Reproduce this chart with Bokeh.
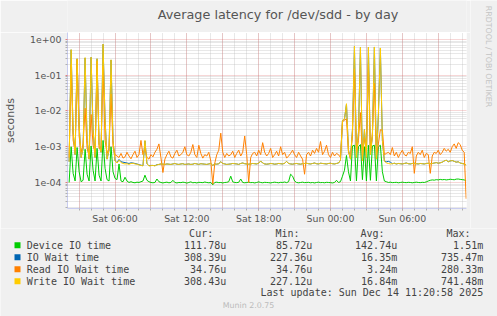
import math
from bokeh.plotting import figure
from bokeh.layouts import column, row
from bokeh.models import (Range1d, FixedTicker, Grid, Label, BoxAnnotation,
                          CustomJSTickFormatter)
from bokeh.embed import file_html
from bokeh.resources import INLINE

# ---------------- data (microseconds, 10-minute samples) ----------------
start_hour = 2 + 10 / 60      # Sat 02:10 (hours since Sat 00:00)
step_hours = 10 / 60

device_io_us = [
    100, 1000, 180, 110, 950, 200, 105, 115, 850, 170, 110, 1050, 220, 110, 900, 160, 110, 1500, 250, 120,
    110, 1000, 200, 130, 120, 330, 110, 105, 140, 110, 100, 105, 100, 98, 102, 100, 105, 110, 160, 115,
    105, 100, 98, 100, 125, 105, 100, 97, 100, 102, 98, 100, 115, 100, 97, 100, 99, 102, 100, 96,
    100, 104, 98, 100, 97, 101, 100, 99, 103, 100, 98, 100, 86, 100, 102, 99, 100, 97, 100, 101,
    105, 150, 104, 100, 99, 101, 125, 100, 98, 100, 102, 99, 100, 97, 100, 104, 100, 98, 101, 100,
    99, 97, 100, 102, 100, 98, 101, 100, 103, 99, 105, 170, 150, 110, 100, 98, 100, 102, 99, 100,
    101, 98, 100, 97, 100, 102, 99, 100, 98, 101, 100, 99, 97, 100, 115, 100, 105, 150, 220, 570,
    200, 110, 1050, 1100, 110, 1000, 1150, 120, 1000, 110, 1100, 115, 1050, 1100, 110, 1000, 1100, 200, 110, 105,
    100, 102, 99, 100, 101, 98, 100, 102, 100, 99, 101, 100, 98, 100, 102, 100, 99, 101, 100, 104,
    110, 115, 118, 116, 120, 118, 122, 119, 121, 118, 120, 123, 121, 119, 124, 125, 122, 120, 118, 112,
]

io_wait_us = [
    380, 515000, 2500, 600, 288000, 4000, 500, 900, 305000, 1500, 450, 318000, 3000, 500, 288000, 1200, 700, 735000, 6000, 450,
    800, 268000, 1500, 400, 360, 440, 380, 370, 360, 350, 340, 355, 350, 340, 330, 315, 305, 295, 1450, 335,
    295, 300, 300, 295, 315, 320, 330, 325, 320, 330, 325, 320, 330, 340, 325, 320, 330, 335, 320, 325,
    330, 320, 325, 340, 330, 320, 335, 330, 325, 320, 330, 340, 300, 330, 325, 335, 380, 340, 330, 320,
    325, 330, 340, 335, 330, 320, 340, 350, 335, 330, 325, 330, 340, 335, 330, 345, 400, 350, 330, 325,
    330, 340, 335, 325, 330, 340, 335, 330, 345, 390, 340, 330, 325, 335, 340, 330, 325, 335, 340, 345,
    335, 330, 340, 350, 335, 330, 345, 340, 335, 330, 340, 345, 335, 330, 340, 350, 420, 5400, 5900, 15500,
    800, 450, 3000, 640000, 500, 2500, 595000, 400, 3000, 500, 605000, 600, 2000, 615000, 450, 8000, 575000, 1500, 400, 380,
    390, 370, 335, 345, 330, 340, 335, 330, 340, 350, 335, 330, 340, 345, 335, 330, 340, 335, 330, 340,
    345, 335, 340, 350, 360, 345, 355, 370, 400, 420, 380, 400, 410, 390, 370, 380, 350, 340, 330, 308,
]

read_wait_us = [
    500, 200000, 1500, 800, 280000, 2000, 700, 1200, 12000, 900, 600, 8000, 1100, 700, 250000, 900, 800, 180000, 1500, 650,
    900, 30000, 1000, 600, 550, 500, 650, 480, 520, 700, 550, 460, 600, 750, 500, 600, 1500, 600, 900, 500,
    450, 600, 520, 700, 850, 1200, 500, 190, 450, 600, 750, 520, 480, 650, 800, 550, 600, 700, 1000, 600,
    550, 700, 1150, 600, 500, 1100, 650, 480, 600, 550, 700, 400, 90, 350, 600, 800, 2400, 700, 500, 650,
    550, 600, 750, 500, 650, 800, 550, 700, 2000, 600, 100, 500, 650, 700, 550, 800, 600, 1300, 700, 550,
    650, 900, 500, 600, 750, 550, 1000, 600, 700, 480, 550, 650, 800, 600, 500, 700, 550, 450, 170, 600,
    700, 550, 800, 650, 900, 700, 1400, 600, 750, 1100, 600, 500, 700, 550, 650, 600, 500, 5000, 5500, 6000,
    700, 500, 2000, 150000, 600, 1500, 9000, 500, 1800, 700, 200000, 600, 2500, 60000, 500, 1200, 3000, 2900, 600, 650,
    700, 600, 950, 550, 700, 500, 650, 800, 600, 550, 700, 650, 1000, 180, 550, 700, 600, 800, 500, 650,
    600, 180, 550, 700, 650, 800, 600, 700, 900, 750, 850, 700, 1000, 1200, 900, 1300, 1150, 800, 700, 35,
]

write_wait_us = [
    380, 520000, 2500, 600, 290000, 4000, 500, 900, 310000, 1500, 450, 320000, 3000, 500, 290000, 1200, 700, 741000, 6000, 450,
    800, 270000, 1500, 400, 350, 420, 360, 340, 330, 335, 320, 340, 345, 330, 325, 310, 300, 290, 1500, 330,
    290, 295, 300, 290, 310, 320, 330, 325, 320, 330, 325, 320, 330, 340, 325, 320, 330, 335, 320, 325,
    330, 320, 325, 340, 330, 320, 335, 330, 325, 320, 330, 340, 300, 330, 325, 335, 380, 340, 330, 320,
    325, 330, 340, 335, 330, 320, 340, 350, 335, 330, 325, 330, 340, 335, 330, 345, 400, 350, 330, 325,
    330, 340, 335, 325, 330, 340, 335, 330, 345, 390, 340, 330, 325, 335, 340, 330, 325, 335, 340, 345,
    335, 330, 340, 350, 335, 330, 345, 340, 335, 330, 340, 345, 335, 330, 340, 350, 420, 5500, 6000, 16000,
    800, 450, 3000, 650000, 500, 2500, 600000, 400, 3000, 500, 610000, 600, 2000, 620000, 450, 8000, 580000, 1500, 400, 350,
    340, 330, 335, 345, 330, 340, 335, 330, 340, 350, 335, 330, 340, 345, 335, 330, 340, 335, 330, 340,
    345, 335, 340, 350, 360, 345, 355, 370, 400, 420, 380, 400, 410, 390, 370, 380, 350, 340, 330, 308,
]

series_names = ["Device IO time", "IO Wait time", "Read IO Wait time", "Write IO Wait time"]
series_colors = ["#00CC00", "#0066B3", "#FF8000", "#FFCC00"]
cur_vals = ["111.78u", "308.39u", "34.76u", "308.43u"]
min_vals = ["85.72u", "227.36u", "34.76u", "227.12u"]
avg_vals = ["142.74u", "16.35m", "3.24m", "16.84m"]
max_vals = ["1.51m", "735.47m", "280.33m", "741.48m"]

x_tick_hours = [6, 12, 18, 24, 30]
x_tick_labels = ["Sat 06:00", "Sat 12:00", "Sat 18:00", "Sun 00:00", "Sun 06:00"]

BG = "#F0F0F0"
TXT = "#555555"

# ---------------- main chart ----------------
MAIN_W, HEAD_H, PLOT_H = 470, 32, 196
p = figure(width=MAIN_W, height=PLOT_H, output_backend="svg", toolbar_location=None,
           x_range=Range1d(2.03, 35.36), y_range=Range1d(1.87e-5, 1.57),
           y_axis_type="log",
           min_border_left=66, min_border_right=4, min_border_top=0, min_border_bottom=20,
           background_fill_color="white", border_fill_color=BG,
           outline_line_color=None)

hours = [start_hour + i * step_hours for i in range(len(device_io_us))]
series = [device_io_us, io_wait_us, read_wait_us, write_wait_us]
for vals, col in zip(series, series_colors):
    p.line(hours, [v / 1e6 for v in vals], line_color=col, line_width=1)

decades = [10.0 ** k for k in range(-5, 1)]
minors = [m * 10.0 ** k for k in range(-5, 1) for m in range(2, 10)]

xa = p.xaxis[0]
xa.ticker = FixedTicker(ticks=x_tick_hours, minor_ticks=list(range(3, 36)))
xa.major_label_overrides = {h: t for h, t in zip(x_tick_hours, x_tick_labels)}
ya = p.yaxis[0]
ya.ticker = FixedTicker(ticks=decades, minor_ticks=minors)
ya.formatter = CustomJSTickFormatter(code="""
const e = Math.round(Math.log10(tick));
const s = Math.abs(e).toString().padStart(2, '0');
return '1e' + (e < 0 ? '-' : '+') + s;
""")
for ax in (xa, ya):
    ax.axis_line_color = "#C8CCF0"
    ax.major_tick_line_color = "#E08080"
    ax.minor_tick_line_color = "#B0B0B0"
    ax.major_tick_in = 0
    ax.major_tick_out = 2
    ax.minor_tick_in = 0
    ax.minor_tick_out = 2
    ax.major_label_text_font = "DejaVu Sans"
    ax.major_label_text_font_size = "9.4px"
    ax.major_label_text_color = TXT
xa.major_label_standoff = 2
ya.major_label_standoff = 4
ya.axis_label = "seconds"
ya.axis_label_text_font = "DejaVu Sans"
ya.axis_label_text_font_size = "11px"
ya.axis_label_text_font_style = "normal"
ya.axis_label_text_color = TXT
ya.axis_label_standoff = 10

p.xgrid.grid_line_color = None
p.ygrid.grid_line_color = None
for dim, ticks, col, alpha in [
    (0, list(range(3, 36)), "#B0B0B0", 0.6),
    (1, minors, "#B0B0B0", 0.6),
    (0, list(range(3, 36, 3)), "#E06060", 0.5),
    (1, decades, "#E06060", 0.5),
]:
    p.add_layout(Grid(dimension=dim, ticker=FixedTicker(ticks=ticks),
                      grid_line_color=col, grid_line_alpha=alpha,
                      grid_line_dash="1 1", grid_line_width=1))


def text_panel(w, h, y_top):
    """A plain figure whose frame is the whole panel, in canvas pixel units."""
    f = figure(width=w, height=h, output_backend="svg", toolbar_location=None,
               x_range=Range1d(0, w), y_range=Range1d(y_top + h, y_top),
               min_border=0, x_axis_location=None, y_axis_location=None,
               background_fill_color=BG, border_fill_color=BG,
               outline_line_color=None)
    f.xgrid.grid_line_color = None
    f.ygrid.grid_line_color = None
    return f


def lab(f, x, y, text, align="left", size="10px", font="DejaVu Sans Mono",
        color="#444444", angle=0.0):
    f.add_layout(Label(x=x, y=y, text=text, text_align=align, text_baseline="middle",
                       text_font_size=size, text_font=font, text_color=color,
                       angle=angle))


# header with the title
head = text_panel(MAIN_W, HEAD_H, 0)
lab(head, 248, 14, "Average latency for /dev/sdd - by day", align="center",
    size="12.8px", font="DejaVu Sans", color=TXT)

# right strip with the RRDtool credit
strip = text_panel(497 - MAIN_W, HEAD_H + PLOT_H, 0)
lab(strip, 487.5 - MAIN_W, 56, "RRDTOOL / TOBI OETIKER", align="center",
    size="7.9px", font="DejaVu Sans", color="#C4C4C4", angle=-math.pi / 2)

# legend panel
TOP_H = HEAD_H + PLOT_H
LEG_H = 316 - TOP_H
leg = text_panel(497, LEG_H, TOP_H)
row_y = [244.7, 256.7, 268.7, 280.7]
col_right = [225.7, 311.7, 396.7, 482.7]
head_right = [212.7, 299, 384, 470]
for hx, ht in zip(head_right, ["Cur:", "Min:", "Avg:", "Max:"]):
    lab(leg, hx, 233.3, ht, align="right")
for i, name in enumerate(series_names):
    y = row_y[i]
    leg.add_layout(BoxAnnotation(left=14, right=20, top=y - 3, bottom=y + 3,
                                 fill_color=series_colors[i], fill_alpha=1,
                                 line_color=None))
    lab(leg, 26.3, y, name)
    for cx, v in zip(col_right, [cur_vals[i], min_vals[i], avg_vals[i], max_vals[i]]):
        lab(leg, cx, y, v, align="right")
lab(leg, 482.7, 292.3, "Last update: Sun Dec 14 11:20:58 2025", align="right")
lab(leg, 248, 305.3, "Munin 2.0.75", align="center", size="7.9px", font="DejaVu Sans",
    color="#BBBBBB")

layout = column(row(column(head, p, spacing=0), strip, spacing=0), leg, spacing=0)
open("out.html", "w").write(file_html(layout, INLINE))
